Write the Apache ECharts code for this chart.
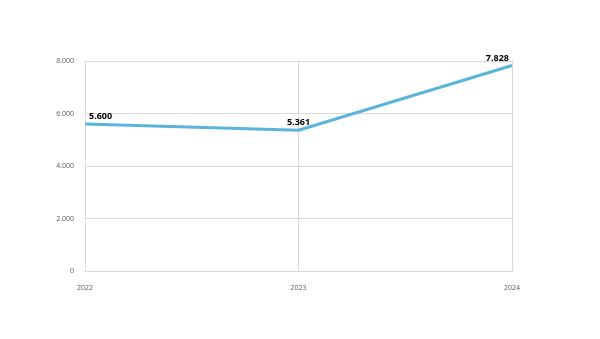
<!DOCTYPE html>
<html><head><meta charset="utf-8">
<script src="https://cdn.jsdelivr.net/npm/echarts@6/dist/echarts.min.js"></script>
<style>html,body{margin:0;padding:0;background:#fff}#c{width:600px;height:339px}</style>
</head><body><div id="c"></div>
<script>
var categories = ['2022', '2023', '2024'];
var values = [5600, 5361, 7828];
var yTicks = [0, 2000, 4000, 6000, 8000];

function fmt(v){ return String(v).replace(/\B(?=(\d{3})+(?!\d))/g, '.'); }
var aligns = ['left', 'center', 'right'];
var offsets = [[4, 0], [0, 0], [-3, 0]];
var chart = echarts.init(document.getElementById('c'));
chart.setOption({
  animation: false,
  textStyle: { fontFamily: 'Open Sans' },
  grid: { left: 85, right: 88, top: 61, bottom: 68 },
  xAxis: {
    type: 'category', data: categories, boundaryGap: false,
    axisLine: { show: true, lineStyle: { color: '#d9d9d9' } },
    axisTick: { show: false },
    axisLabel: { color: '#595959', fontSize: 7, margin: 13 },
    splitLine: { show: true, lineStyle: { color: '#d9d9d9', width: 1 } }
  },
  yAxis: {
    type: 'value', min: yTicks[0], max: yTicks[yTicks.length-1], interval: 2000,
    axisLine: { show: true, lineStyle: { color: '#d9d9d9' } },
    axisTick: { show: false },
    axisLabel: { color: '#595959', fontSize: 7, margin: 11, formatter: function(v){ return fmt(v); } },
    splitLine: { show: true, lineStyle: { color: '#d9d9d9', width: 1 } }
  },
  series: [{
    type: 'line', data: values.map(function(v, i){
      return { value: v, label: { align: aligns[i], offset: offsets[i] } };
    }),
    showSymbol: true, symbol: 'circle', symbolSize: 0.01,
    lineStyle: { color: '#5ab4dc', width: 3 },
    itemStyle: { color: '#5ab4dc' },
    label: { show: true, position: 'top', distance: 3, color: '#000', fontSize: 9, fontWeight: 'bold',
      formatter: function(p){ return fmt(p.value); } }
  }]
});
</script></body></html>
